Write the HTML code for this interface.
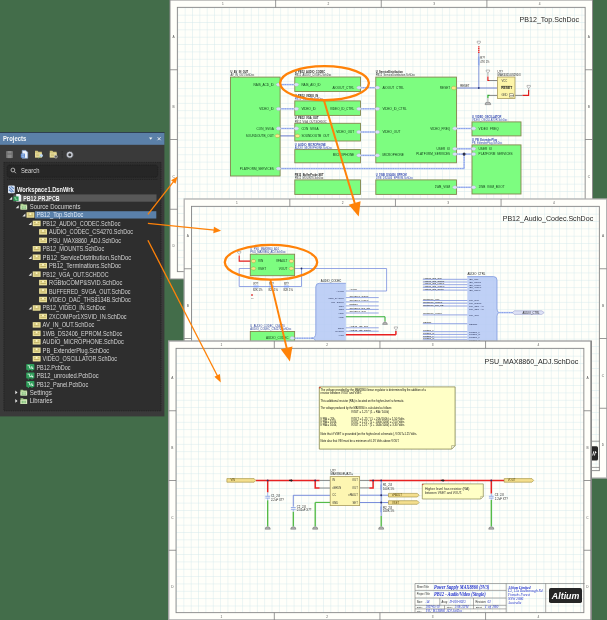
<!DOCTYPE html>
<html><head><meta charset="utf-8"><title>Projects</title>
<style>html,body{margin:0;padding:0;background:#436d4a;overflow:hidden}svg{display:block}text{font-family:"Liberation Sans",sans-serif}.zl{font-size:3.2px;fill:#555;text-anchor:middle}.ttl{font-size:7.08px;fill:#262626;text-anchor:end}.t{font-size:7.1px;fill:#e8e8e8}</style></head><body>
<svg width="607" height="620" viewBox="0 0 607 620">
<defs>
<pattern id="grid1" x="177.34782608695653" y="7.3478260869565215" width="7.3478260869565215" height="7.3478260869565215" patternUnits="userSpaceOnUse"><rect width="7.3478260869565215" height="7.3478260869565215" fill="#fffffa"/><path d="M0 0H7.3478260869565215M0 0V7.3478260869565215" stroke="#d5e9ee" stroke-width="0.9" fill="none"/></pattern>
<pattern id="grid2" x="191.54782608695652" y="206.34782608695653" width="7.3478260869565215" height="7.3478260869565215" patternUnits="userSpaceOnUse"><rect width="7.3478260869565215" height="7.3478260869565215" fill="#fffffa"/><path d="M0 0H7.3478260869565215M0 0V7.3478260869565215" stroke="#d5e9ee" stroke-width="0.9" fill="none"/></pattern>
<pattern id="grid3" x="176.04782608695652" y="348.3478260869565" width="7.3478260869565215" height="7.3478260869565215" patternUnits="userSpaceOnUse"><rect width="7.3478260869565215" height="7.3478260869565215" fill="#fffffa"/><path d="M0 0H7.3478260869565215M0 0V7.3478260869565215" stroke="#d5e9ee" stroke-width="0.9" fill="none"/></pattern>
<filter id="soft" x="0" y="0" width="100%" height="100%" filterUnits="userSpaceOnUse" color-interpolation-filters="sRGB"><feGaussianBlur stdDeviation="0.38"/></filter>
</defs>
<g filter="url(#soft)">
<rect width="607" height="620" fill="#436d4a"/>
<g>
<rect x="170.0" y="0.0" width="422.5" height="279.0" fill="#fffffa" stroke="#8c8c8c" stroke-width="1.0"/>
<rect x="177.34782608695653" y="7.3478260869565215" width="407.80434782608694" height="264.30434782608694" fill="url(#grid1)" stroke="none"/>
<rect x="177.34782608695653" y="7.3478260869565215" width="407.80434782608694" height="264.30434782608694" fill="none" stroke="#868686" stroke-width="0.9"/>
<path d="M275.625 0.0V7.3478260869565215M275.625 271.6521739130435V279.0" stroke="#7d7d7d" stroke-width="0.8"/>
<path d="M170.0 69.75H177.34782608695653M585.1521739130435 69.75H592.5" stroke="#7d7d7d" stroke-width="0.8"/>
<path d="M381.25 0.0V7.3478260869565215M381.25 271.6521739130435V279.0" stroke="#7d7d7d" stroke-width="0.8"/>
<path d="M170.0 139.5H177.34782608695653M585.1521739130435 139.5H592.5" stroke="#7d7d7d" stroke-width="0.8"/>
<path d="M486.875 0.0V7.3478260869565215M486.875 271.6521739130435V279.0" stroke="#7d7d7d" stroke-width="0.8"/>
<path d="M170.0 209.25H177.34782608695653M585.1521739130435 209.25H592.5" stroke="#7d7d7d" stroke-width="0.8"/>
<text x="222.8125" y="5.2" class="zl">1</text>
<text x="222.8125" y="277.4" class="zl">1</text>
<text x="328.4375" y="5.2" class="zl">2</text>
<text x="328.4375" y="277.4" class="zl">2</text>
<text x="434.0625" y="5.2" class="zl">3</text>
<text x="434.0625" y="277.4" class="zl">3</text>
<text x="539.6875" y="5.2" class="zl">4</text>
<text x="539.6875" y="277.4" class="zl">4</text>
<text x="173.67391304347825" y="38.075" class="zl">A</text>
<text x="588.8260869565217" y="38.075" class="zl">A</text>
<text x="173.67391304347825" y="107.825" class="zl">B</text>
<text x="588.8260869565217" y="107.825" class="zl">B</text>
<text x="173.67391304347825" y="177.575" class="zl">C</text>
<text x="588.8260869565217" y="177.575" class="zl">C</text>
<text x="173.67391304347825" y="247.325" class="zl">D</text>
<text x="588.8260869565217" y="247.325" class="zl">D</text>
<text x="579" y="21.8" class="ttl">PB12_Top.SchDoc</text>
</g>
<g id="s1c">
<path d="M280 84.6H294.8" fill="none" stroke="#b0c1f3" stroke-width="1.5"/>
<path d="M280 84.6H294.8" fill="none" stroke="#6f8be2" stroke-width="0.675" stroke-dasharray="1.2 1.2"/>
<path d="M280 108.8H294.8" fill="none" stroke="#b0c1f3" stroke-width="1.5"/>
<path d="M280 108.8H294.8" fill="none" stroke="#6f8be2" stroke-width="0.675" stroke-dasharray="1.2 1.2"/>
<path d="M280 128.5H294.8" fill="none" stroke="#b0c1f3" stroke-width="1.5"/>
<path d="M280 128.5H294.8" fill="none" stroke="#6f8be2" stroke-width="0.675" stroke-dasharray="1.2 1.2"/>
<path d="M280 135.9H294.8" fill="none" stroke="#3f55c0" stroke-width="0.8"/>
<path d="M360.5 87.7H375.8" fill="none" stroke="#b0c1f3" stroke-width="1.5"/>
<path d="M360.5 87.7H375.8" fill="none" stroke="#6f8be2" stroke-width="0.675" stroke-dasharray="1.2 1.2"/>
<path d="M360.5 108.8H375.8" fill="none" stroke="#b0c1f3" stroke-width="1.5"/>
<path d="M360.5 108.8H375.8" fill="none" stroke="#6f8be2" stroke-width="0.675" stroke-dasharray="1.2 1.2"/>
<path d="M360.5 132.0H375.8" fill="none" stroke="#b0c1f3" stroke-width="1.5"/>
<path d="M360.5 132.0H375.8" fill="none" stroke="#6f8be2" stroke-width="0.675" stroke-dasharray="1.2 1.2"/>
<path d="M360.5 155.4H375.8" fill="none" stroke="#b0c1f3" stroke-width="1.5"/>
<path d="M360.5 155.4H375.8" fill="none" stroke="#6f8be2" stroke-width="0.675" stroke-dasharray="1.2 1.2"/>
<path d="M280 168.6H464.1V154.1" fill="none" stroke="#b0c1f3" stroke-width="1.5"/>
<path d="M280 168.6H464.1V154.1" fill="none" stroke="#6f8be2" stroke-width="0.675" stroke-dasharray="1.2 1.2"/>
<path d="M456.5 128.5H472" fill="none" stroke="#b0c1f3" stroke-width="1.5"/>
<path d="M456.5 128.5H472" fill="none" stroke="#6f8be2" stroke-width="0.675" stroke-dasharray="1.2 1.2"/>
<path d="M456.5 148.8H472" fill="none" stroke="#b0c1f3" stroke-width="1.5"/>
<path d="M456.5 148.8H472" fill="none" stroke="#6f8be2" stroke-width="0.675" stroke-dasharray="1.2 1.2"/>
<path d="M456.5 154.1H472" fill="none" stroke="#b0c1f3" stroke-width="1.5"/>
<path d="M456.5 154.1H472" fill="none" stroke="#6f8be2" stroke-width="0.675" stroke-dasharray="1.2 1.2"/>
<path d="M456.5 187.3H472" fill="none" stroke="#b0c1f3" stroke-width="1.5"/>
<path d="M456.5 187.3H472" fill="none" stroke="#6f8be2" stroke-width="0.675" stroke-dasharray="1.2 1.2"/>
<path d="M456.5 88H497.4" fill="none" stroke="#3048b8" stroke-width="0.7"/>
<path d="M478.8 46.2V53.2" stroke="#e82020" stroke-width="1.4" stroke-dasharray="1.3 0.5"/>
<path d="M478.8 56.8V65.6" stroke="#8ea6e6" stroke-width="1.7"/>
<path d="M478.8 53V57M478.8 65.6V88" fill="none" stroke="#5870d0" stroke-width="0.7"/>
<circle cx="478.8" cy="88" r="0.9" fill="#28357a"/>
<circle cx="464.1" cy="154.1" r="1.55" fill="#2c3048"/>
<path d="M477.2 41.2h3.2v1.6l-1.6 1.2l-1.6-1.2z" fill="#f4f4f4" stroke="#666" stroke-width="0.4"/>
<text x="480.30" y="58.90" style="font-size:2.6px;fill:#2b2b2b;">R??</text>
<text x="480.30" y="62.60" style="font-size:2.6px;fill:#2b2b2b;">47K 1%</text>
<rect x="230.50" y="77.10" width="49.60" height="98.90" fill="#7dfd80" stroke="#84864e" stroke-width="0.9"/>
<rect x="294.80" y="77.00" width="65.70" height="14.50" fill="#7dfd80" stroke="#84864e" stroke-width="0.9"/>
<rect x="294.80" y="100.90" width="65.70" height="14.50" fill="#7dfd80" stroke="#84864e" stroke-width="0.9"/>
<rect x="294.80" y="123.30" width="65.70" height="17.70" fill="#7dfd80" stroke="#84864e" stroke-width="0.9"/>
<rect x="294.80" y="149.60" width="65.70" height="13.20" fill="#7dfd80" stroke="#84864e" stroke-width="0.9"/>
<rect x="294.80" y="179.90" width="65.70" height="14.50" fill="#7dfd80" stroke="#84864e" stroke-width="0.9"/>
<rect x="375.80" y="77.10" width="80.70" height="85.70" fill="#7dfd80" stroke="#84864e" stroke-width="0.9"/>
<rect x="375.80" y="179.90" width="80.70" height="14.50" fill="#7dfd80" stroke="#84864e" stroke-width="0.9"/>
<rect x="472.00" y="121.90" width="49.00" height="14.00" fill="#7dfd80" stroke="#84864e" stroke-width="0.9"/>
<rect x="472.00" y="144.90" width="49.00" height="49.10" fill="#7dfd80" stroke="#84864e" stroke-width="0.9"/>
<text x="230.50" y="73.20" style="font-size:2.6px;fill:#222;font-weight:bold;">U_AV_IN_OUT</text>
<text x="230.50" y="76.30" style="font-size:2.6px;fill:#333;">AV_IN_OUT.SchDoc</text>
<text x="294.80" y="73.10" style="font-size:2.6px;fill:#222;font-weight:bold;">U_PB12_AUDIO_CODEC</text>
<text x="294.80" y="76.20" style="font-size:2.6px;fill:#333;">PB12_AUDIO_CODEC.SchDoc</text>
<text x="294.80" y="97.00" style="font-size:2.6px;fill:#222;font-weight:bold;">U_PB12_VIDEO_IN</text>
<text x="294.80" y="100.10" style="font-size:2.6px;fill:#3348b0;">PB12_Video_IN.SchDoc</text>
<text x="294.80" y="119.40" style="font-size:2.6px;fill:#222;font-weight:bold;">U_PB12_VGA_OUT</text>
<text x="294.80" y="122.50" style="font-size:2.6px;fill:#333;">PB12_VGA_OUT.SCHDOC</text>
<text x="294.80" y="145.70" style="font-size:2.6px;fill:#3348b0;font-weight:bold;">U_AUDIO_MICROPHONE</text>
<text x="294.80" y="148.80" style="font-size:2.6px;fill:#3348b0;">AUDIO_MICROPHONE.SchDoc</text>
<text x="294.80" y="176.00" style="font-size:2.6px;fill:#222;font-weight:bold;">PB12_BufferProbe.SET</text>
<text x="294.80" y="179.10" style="font-size:2.6px;fill:#333;">PB12_MOUNTS.SchDoc</text>
<text x="375.80" y="73.20" style="font-size:2.6px;fill:#222;font-weight:bold;">U_ServiceDistribution</text>
<text x="375.80" y="76.30" style="font-size:2.6px;fill:#333;">PB12_ServiceDistribution.SchDoc</text>
<text x="375.80" y="176.00" style="font-size:2.6px;fill:#3348b0;font-weight:bold;">U_1WB_DS2406_EPROM</text>
<text x="375.80" y="179.10" style="font-size:2.6px;fill:#3348b0;">1WB_DS2406_EPROM.SchDoc</text>
<text x="472.00" y="118.00" style="font-size:2.6px;fill:#3348b0;font-weight:bold;">U_VIDEO_OSCILLATOR</text>
<text x="472.00" y="121.10" style="font-size:2.6px;fill:#3348b0;">VIDEO_OSCILLATOR.SchDoc</text>
<text x="472.00" y="141.00" style="font-size:2.6px;fill:#3348b0;font-weight:bold;">U_PB_ExtenderPlug</text>
<text x="472.00" y="144.10" style="font-size:2.6px;fill:#3348b0;">PB_ExtenderPlug.SchDoc</text>
<path d="M275.90 84.60l1.65 -1.65h1.90l1.65 1.65l-1.65 1.65h-1.90z" fill="#d9e0f8" stroke="#a9a6b8" stroke-width="0.35"/>
<text x="273.80" y="85.60" style="font-size:3.1px;fill:#0f3a18;text-anchor:end;">NAIS_ACD_ID</text>
<path d="M275.90 108.80l1.65 -1.65h1.90l1.65 1.65l-1.65 1.65h-1.90z" fill="#d9e0f8" stroke="#a9a6b8" stroke-width="0.35"/>
<text x="273.80" y="109.80" style="font-size:3.1px;fill:#0f3a18;text-anchor:end;">VIDEO_ID</text>
<path d="M275.90 128.50l1.65 -1.65h1.90l1.65 1.65l-1.65 1.65h-1.90z" fill="#d9e0f8" stroke="#a9a6b8" stroke-width="0.35"/>
<text x="273.80" y="129.50" style="font-size:3.1px;fill:#0f3a18;text-anchor:end;">CON_SVGA</text>
<path d="M274.70 135.90l1.70 -1.70h2.00l1.70 1.70l-1.70 1.70h-2.00z" fill="#fbe58a" stroke="#9c8428" stroke-width="0.35"/>
<text x="273.80" y="136.90" style="font-size:3.1px;fill:#0f3a18;text-anchor:end;">SOUNDOUTB_OUT</text>
<path d="M275.90 168.60l1.65 -1.65h1.90l1.65 1.65l-1.65 1.65h-1.90z" fill="#d9e0f8" stroke="#a9a6b8" stroke-width="0.35"/>
<text x="273.80" y="169.60" style="font-size:3.1px;fill:#0f3a18;text-anchor:end;">PLATFORM_SERVICES</text>
<path d="M293.80 84.60l1.65 -1.65h1.90l1.65 1.65l-1.65 1.65h-1.90z" fill="#d9e0f8" stroke="#a9a6b8" stroke-width="0.35"/>
<text x="301.40" y="85.60" style="font-size:3.1px;fill:#0f3a18;">NAIS_AIO_ID</text>
<path d="M356.30 87.70l1.65 -1.65h1.90l1.65 1.65l-1.65 1.65h-1.90z" fill="#d9e0f8" stroke="#a9a6b8" stroke-width="0.35"/>
<text x="354.20" y="88.70" style="font-size:3.1px;fill:#0f3a18;text-anchor:end;">AIOOUT_CTRL</text>
<path d="M293.80 108.80l1.65 -1.65h1.90l1.65 1.65l-1.65 1.65h-1.90z" fill="#d9e0f8" stroke="#a9a6b8" stroke-width="0.35"/>
<text x="301.40" y="109.80" style="font-size:3.1px;fill:#0f3a18;">VIDEO_ID</text>
<path d="M356.30 108.80l1.65 -1.65h1.90l1.65 1.65l-1.65 1.65h-1.90z" fill="#d9e0f8" stroke="#a9a6b8" stroke-width="0.35"/>
<text x="354.20" y="109.80" style="font-size:3.1px;fill:#0f3a18;text-anchor:end;">VIDEO_ID_CTRL</text>
<path d="M293.80 128.50l1.65 -1.65h1.90l1.65 1.65l-1.65 1.65h-1.90z" fill="#d9e0f8" stroke="#a9a6b8" stroke-width="0.35"/>
<text x="301.40" y="129.50" style="font-size:3.1px;fill:#0f3a18;">CON_SVGA</text>
<path d="M294.80 135.90l1.70 -1.70h2.00l1.70 1.70l-1.70 1.70h-2.00z" fill="#fbe58a" stroke="#9c8428" stroke-width="0.35"/>
<text x="301.40" y="136.90" style="font-size:3.1px;fill:#0f3a18;">SOUNDOUTB_OUT</text>
<path d="M356.30 132.00l1.65 -1.65h1.90l1.65 1.65l-1.65 1.65h-1.90z" fill="#d9e0f8" stroke="#a9a6b8" stroke-width="0.35"/>
<text x="354.20" y="133.00" style="font-size:3.1px;fill:#0f3a18;text-anchor:end;">VIDEO_OUT</text>
<path d="M356.30 155.40l1.65 -1.65h1.90l1.65 1.65l-1.65 1.65h-1.90z" fill="#d9e0f8" stroke="#a9a6b8" stroke-width="0.35"/>
<text x="354.20" y="156.40" style="font-size:3.1px;fill:#0f3a18;text-anchor:end;">MICROPHONE</text>
<path d="M374.80 87.70l1.65 -1.65h1.90l1.65 1.65l-1.65 1.65h-1.90z" fill="#d9e0f8" stroke="#a9a6b8" stroke-width="0.35"/>
<text x="382.40" y="88.70" style="font-size:3.1px;fill:#0f3a18;">AIOOUT_CTRL</text>
<path d="M374.80 108.80l1.65 -1.65h1.90l1.65 1.65l-1.65 1.65h-1.90z" fill="#d9e0f8" stroke="#a9a6b8" stroke-width="0.35"/>
<text x="382.40" y="109.80" style="font-size:3.1px;fill:#0f3a18;">VIDEO_ID_CTRL</text>
<path d="M374.80 132.00l1.65 -1.65h1.90l1.65 1.65l-1.65 1.65h-1.90z" fill="#d9e0f8" stroke="#a9a6b8" stroke-width="0.35"/>
<text x="382.40" y="133.00" style="font-size:3.1px;fill:#0f3a18;">VIDEO_OUT</text>
<path d="M374.80 155.40l1.65 -1.65h1.90l1.65 1.65l-1.65 1.65h-1.90z" fill="#d9e0f8" stroke="#a9a6b8" stroke-width="0.35"/>
<text x="382.40" y="156.40" style="font-size:3.1px;fill:#0f3a18;">MICROPHONE</text>
<path d="M451.10 88.00l1.70 -1.70h2.00l1.70 1.70l-1.70 1.70h-2.00z" fill="#fbe58a" stroke="#9c8428" stroke-width="0.35"/>
<text x="450.20" y="89.00" style="font-size:3.1px;fill:#0f3a18;text-anchor:end;">RESET</text>
<path d="M452.30 128.50l1.65 -1.65h1.90l1.65 1.65l-1.65 1.65h-1.90z" fill="#d9e0f8" stroke="#a9a6b8" stroke-width="0.35"/>
<text x="450.20" y="129.50" style="font-size:3.1px;fill:#0f3a18;text-anchor:end;">VIDEO_FREQ</text>
<path d="M452.30 148.80l1.65 -1.65h1.90l1.65 1.65l-1.65 1.65h-1.90z" fill="#d9e0f8" stroke="#a9a6b8" stroke-width="0.35"/>
<text x="450.20" y="149.80" style="font-size:3.1px;fill:#0f3a18;text-anchor:end;">USER_IO</text>
<path d="M452.30 154.10l1.65 -1.65h1.90l1.65 1.65l-1.65 1.65h-1.90z" fill="#d9e0f8" stroke="#a9a6b8" stroke-width="0.35"/>
<text x="450.20" y="155.10" style="font-size:3.1px;fill:#0f3a18;text-anchor:end;">PLATFORM_SERVICES</text>
<path d="M452.30 187.30l1.65 -1.65h1.90l1.65 1.65l-1.65 1.65h-1.90z" fill="#d9e0f8" stroke="#a9a6b8" stroke-width="0.35"/>
<text x="450.20" y="188.30" style="font-size:3.1px;fill:#0f3a18;text-anchor:end;">1WB_VGM</text>
<path d="M471.00 128.50l1.65 -1.65h1.90l1.65 1.65l-1.65 1.65h-1.90z" fill="#d9e0f8" stroke="#a9a6b8" stroke-width="0.35"/>
<text x="478.60" y="129.50" style="font-size:3.1px;fill:#0f3a18;">VIDEO_FREQ</text>
<path d="M471.00 148.80l1.65 -1.65h1.90l1.65 1.65l-1.65 1.65h-1.90z" fill="#d9e0f8" stroke="#a9a6b8" stroke-width="0.35"/>
<text x="478.60" y="149.80" style="font-size:3.1px;fill:#0f3a18;">USER_IO</text>
<path d="M471.00 154.10l1.65 -1.65h1.90l1.65 1.65l-1.65 1.65h-1.90z" fill="#d9e0f8" stroke="#a9a6b8" stroke-width="0.35"/>
<text x="478.60" y="155.10" style="font-size:3.1px;fill:#0f3a18;">PLATFORM_SERVICES</text>
<path d="M471.00 187.30l1.65 -1.65h1.90l1.65 1.65l-1.65 1.65h-1.90z" fill="#d9e0f8" stroke="#a9a6b8" stroke-width="0.35"/>
<text x="478.60" y="188.30" style="font-size:3.1px;fill:#0f3a18;">1WB_VGM_BOOT</text>
<text x="460.20" y="87.20" style="font-size:2.8px;fill:#222;">RESET</text>
<path d="M489 80.5H497.4M489 95.4H497.4M515 95.4H522.5" stroke="#555" stroke-width="0.7"/>
<path d="M487.9 76.6V80.5H489.4" stroke="#e21c1c" stroke-width="1.2" fill="none"/>
<path d="M489.4 95.4H487.9V98" stroke="#2fae2f" stroke-width="1.2" fill="none"/>
<path d="M522.5 95.4H528.6V90" stroke="#e21c1c" stroke-width="1.2" fill="none"/>
<rect x="497.40" y="77.00" width="17.60" height="21.40" fill="#fdf5a9" stroke="#a89a5c" stroke-width="0.8"/>
<text x="497.60" y="73.00" style="font-size:2.8px;fill:#1c1c1c;">U??</text>
<text x="497.60" y="76.00" style="font-size:2.8px;fill:#1c1c1c;">MAX6315US29D3</text>
<text x="501.40" y="81.50" style="font-size:2.8px;fill:#444;">VCC</text>
<text x="501.40" y="96.40" style="font-size:2.8px;fill:#444;">GND</text>
<text x="501.20" y="89.30" style="font-size:3.3px;fill:#222;font-weight:bold;">RESET</text>
<path d="M501.2 86.3H510.6" stroke="#222" stroke-width="0.4"/>
<rect x="509.6" y="93.8" width="4.2" height="3.2" fill="#fffbe0" stroke="#444" stroke-width="0.4"/>
<text x="510.00" y="96.40" style="font-size:2.4px;fill:#222;">MR</text>
<path d="M486.2 70.0h3.4v1.4l-1.7 1.6l-1.7-1.6z" fill="#f6f6f6" stroke="#666" stroke-width="0.4"/>
<path d="M487.9 73.0v3.2" stroke="#666" stroke-width="0.5"/>
<path d="M527.0 85.39999999999999h3.4v1.4l-1.7 1.6l-1.7-1.6z" fill="#f6f6f6" stroke="#666" stroke-width="0.4"/>
<path d="M528.7 88.39999999999999v3.2" stroke="#666" stroke-width="0.5"/>
<path d="M487.9 98v3.6" stroke="#666" stroke-width="0.6"/><path d="M485 104.6a2.9 2.6 0 0 1 5.8 0z" fill="#b9b9b9" stroke="#666" stroke-width="0.5"/>
</g>
<g>
<rect x="184.2" y="199.0" width="422.5" height="279.0" fill="#fffffa" stroke="#b2b2b2" stroke-width="1.3"/>
<rect x="191.54782608695652" y="206.34782608695653" width="407.80434782608694" height="264.30434782608694" fill="url(#grid2)" stroke="none"/>
<rect x="191.54782608695652" y="206.34782608695653" width="407.80434782608694" height="264.30434782608694" fill="none" stroke="#868686" stroke-width="0.9"/>
<path d="M289.825 199.0V206.34782608695653M289.825 470.6521739130435V478.0" stroke="#7d7d7d" stroke-width="0.8"/>
<path d="M184.2 268.75H191.54782608695652M599.3521739130435 268.75H606.7" stroke="#7d7d7d" stroke-width="0.8"/>
<path d="M395.45 199.0V206.34782608695653M395.45 470.6521739130435V478.0" stroke="#7d7d7d" stroke-width="0.8"/>
<path d="M184.2 338.5H191.54782608695652M599.3521739130435 338.5H606.7" stroke="#7d7d7d" stroke-width="0.8"/>
<path d="M501.075 199.0V206.34782608695653M501.075 470.6521739130435V478.0" stroke="#7d7d7d" stroke-width="0.8"/>
<path d="M184.2 408.25H191.54782608695652M599.3521739130435 408.25H606.7" stroke="#7d7d7d" stroke-width="0.8"/>
<text x="237.0125" y="204.2" class="zl">1</text>
<text x="237.0125" y="476.4" class="zl">1</text>
<text x="342.6375" y="204.2" class="zl">2</text>
<text x="342.6375" y="476.4" class="zl">2</text>
<text x="448.2625" y="204.2" class="zl">3</text>
<text x="448.2625" y="476.4" class="zl">3</text>
<text x="553.8875" y="204.2" class="zl">4</text>
<text x="553.8875" y="476.4" class="zl">4</text>
<text x="187.87391304347824" y="237.075" class="zl">A</text>
<text x="603.0260869565218" y="237.075" class="zl">A</text>
<text x="187.87391304347824" y="306.825" class="zl">B</text>
<text x="603.0260869565218" y="306.825" class="zl">B</text>
<text x="187.87391304347824" y="376.575" class="zl">C</text>
<text x="603.0260869565218" y="376.575" class="zl">C</text>
<text x="187.87391304347824" y="446.325" class="zl">D</text>
<text x="603.0260869565218" y="446.325" class="zl">D</text>
<text x="593.2" y="220.8" class="ttl">PB12_Audio_Codec.SchDoc</text>
</g>
<g id="s2c">
<path d="M250.3 268.5H239.2V286.5H301.5V268.5" fill="none" stroke="#7a8fde" stroke-width="0.8"/>
<path d="M294.6 268.5H386.6V291H345.9" fill="none" stroke="#7a8fde" stroke-width="0.8"/>
<circle cx="301.5" cy="268.5" r="0.9" fill="#27306a"/>
<path d="M239.2 255.4V261.1H250.3" stroke="#e21c1c" stroke-width="1.1" fill="none"/>
<path d="M237.6 251.4h3.2v1.4l-1.6 1.5l-1.6-1.5z" fill="#f6f6f6" stroke="#666" stroke-width="0.4"/>
<path d="M253.4 286.5H258.6" stroke="#7f9cf0" stroke-width="1.7"/>
<text x="253.40" y="284.60" style="font-size:2.7px;fill:#1c1c1c;">R??</text>
<text x="253.00" y="291.20" style="font-size:2.7px;fill:#1c1c1c;">82K 1%</text>
<path d="M268.9 286.5H274.1" stroke="#7f9cf0" stroke-width="1.7"/>
<text x="268.90" y="284.60" style="font-size:2.7px;fill:#1c1c1c;">R??</text>
<text x="268.50" y="291.20" style="font-size:2.7px;fill:#1c1c1c;">82K 1%</text>
<path d="M283.9 286.5H289.1" stroke="#7f9cf0" stroke-width="1.7"/>
<text x="283.90" y="284.60" style="font-size:2.7px;fill:#1c1c1c;">R??</text>
<text x="283.50" y="291.20" style="font-size:2.7px;fill:#1c1c1c;">82K 1%</text>
<rect x="251.2" y="294.2" width="1.6" height="1.6" fill="#e03030"/>
<text x="251.00" y="298.60" style="font-size:2.3px;fill:#555;">??</text>
<rect x="250.30" y="254.20" width="44.30" height="21.50" fill="#7dfd80" stroke="#84864e" stroke-width="0.9"/>
<text x="250.30" y="250.40" style="font-size:2.7px;fill:#2a3f9a;">U_PSU_MAX8860_ADJ</text>
<text x="250.30" y="253.40" style="font-size:2.7px;fill:#2a3f9a;">PSU_MAX8860_ADJ.SchDoc</text>
<path d="M251.00 261.10l1.60 -1.60h1.80l1.60 1.60l-1.60 1.60h-1.80z" fill="#fbe58a" stroke="#9c8428" stroke-width="0.35"/>
<path d="M288.90 261.10l1.60 -1.60h1.80l1.60 1.60l-1.60 1.60h-1.80z" fill="#fbe58a" stroke="#9c8428" stroke-width="0.35"/>
<text x="258.00" y="262.10" style="font-size:3.1px;fill:#0f3a18;">VIN</text>
<text x="287.40" y="262.10" style="font-size:3.1px;fill:#0f3a18;text-anchor:end;">VFAULT</text>
<path d="M251.00 268.50l1.60 -1.60h1.80l1.60 1.60l-1.60 1.60h-1.80z" fill="#fbe58a" stroke="#9c8428" stroke-width="0.35"/>
<path d="M288.90 268.50l1.60 -1.60h1.80l1.60 1.60l-1.60 1.60h-1.80z" fill="#fbe58a" stroke="#9c8428" stroke-width="0.35"/>
<text x="258.00" y="269.50" style="font-size:3.1px;fill:#0f3a18;">VSET</text>
<text x="287.40" y="269.50" style="font-size:3.1px;fill:#0f3a18;text-anchor:end;">VOUT</text>
<rect x="250.30" y="331.50" width="44.30" height="20.50" fill="#7dfd80" stroke="#84864e" stroke-width="0.9"/>
<text x="250.30" y="327.00" style="font-size:2.7px;fill:#2a3f9a;">U_AUDIO_CODEC_CS4270</text>
<text x="250.30" y="330.20" style="font-size:2.7px;fill:#2a3f9a;">AUDIO_CODEC_CS4270.SchDoc</text>
<path d="M294.6 338.2H313" fill="none" stroke="#b0c1f3" stroke-width="1.5"/>
<path d="M294.6 338.2H313" fill="none" stroke="#6f8be2" stroke-width="0.675" stroke-dasharray="1.2 1.2"/>
<path d="M289.60 338.20l1.65 -1.65h1.90l1.65 1.65l-1.65 1.65h-1.90z" fill="#d9e0f8" stroke="#a9a6b8" stroke-width="0.35"/>
<text x="288.60" y="339.20" style="font-size:3.1px;fill:#0f3a18;text-anchor:end;">AUDIO_CODEC</text>
<path d="M345.9 283.3H319.3Q315.8 283.3 315.8 286.8V333Q315.8 338.2 311.5 338.2Q315.8 338.2 315.8 343V352H345.9z" fill="#b4c8f5" fill-opacity="0.86" stroke="none"/>
<path d="M345.9 283.3H319.3Q315.8 283.3 315.8 286.8V333Q315.8 338.2 311.5 338.2Q315.8 338.2 315.8 343V352" fill="none" stroke="#7f99de" stroke-width="0.8"/>
<text x="320.80" y="282.20" style="font-size:2.8px;fill:#1c1c1c;">AUDIO_CODEC</text>
<text x="343.80" y="291.90" style="font-size:2.5px;fill:#2a3358;text-anchor:end;">APWR</text>
<text x="349.40" y="290.40" style="font-size:2.5px;fill:#202020;">APWR</text>
<path d="M345.9 297.6H378.7" fill="none" stroke="#7a8fde" stroke-width="0.8"/>
<text x="343.80" y="298.50" style="font-size:2.5px;fill:#2a3358;text-anchor:end;">xSDI_DAOUT</text>
<text x="349.40" y="297.00" style="font-size:2.5px;fill:#202020;">OUTDIFF_SOUT</text>
<path d="M345.9 301.9H378.7" fill="none" stroke="#7a8fde" stroke-width="0.8"/>
<text x="343.80" y="302.80" style="font-size:2.5px;fill:#2a3358;text-anchor:end;">SPI_DOUT</text>
<text x="349.40" y="301.30" style="font-size:2.5px;fill:#202020;">OUTDIFF_MCLK</text>
<path d="M345.9 305.9H378.7" fill="none" stroke="#7a8fde" stroke-width="0.8"/>
<text x="343.80" y="306.80" style="font-size:2.5px;fill:#2a3358;text-anchor:end;">RST</text>
<text x="349.40" y="305.30" style="font-size:2.5px;fill:#202020;">RESET</text>
<path d="M345.9 309.4H378.7" fill="none" stroke="#7a8fde" stroke-width="0.8"/>
<text x="343.80" y="310.30" style="font-size:2.5px;fill:#2a3358;text-anchor:end;">NSS</text>
<text x="349.40" y="308.80" style="font-size:2.5px;fill:#202020;">OUTDIFF_DS_SE</text>
<path d="M345.9 313.0H378.7" fill="none" stroke="#7a8fde" stroke-width="0.8"/>
<text x="343.80" y="313.90" style="font-size:2.5px;fill:#2a3358;text-anchor:end;">xSCI</text>
<text x="349.40" y="312.40" style="font-size:2.5px;fill:#202020;">OUTDIFF_SIN</text>
<path d="M345.9 316.7H385.0" fill="none" stroke="#35b035" stroke-width="1.1"/>
<text x="343.80" y="317.60" style="font-size:2.5px;fill:#2a3358;text-anchor:end;">VDD</text>
<path d="M345.9 327.8H378.7" fill="none" stroke="#7a8fde" stroke-width="0.8"/>
<text x="343.80" y="328.70" style="font-size:2.5px;fill:#2a3358;text-anchor:end;">SDIN</text>
<text x="349.40" y="327.20" style="font-size:2.5px;fill:#202020;">AUDIO_I2S_SIN</text>
<path d="M345.9 331.2H378.7" fill="none" stroke="#7a8fde" stroke-width="0.8"/>
<text x="343.80" y="332.10" style="font-size:2.5px;fill:#2a3358;text-anchor:end;">SVOUT</text>
<text x="349.40" y="330.60" style="font-size:2.5px;fill:#202020;">AUDIO_I2S_SOUT</text>
<path d="M345.9 334.7H395.9" fill="none" stroke="#e82020" stroke-width="1.5"/>
<text x="343.80" y="335.60" style="font-size:2.5px;fill:#2a3358;text-anchor:end;">VCC</text>
<path d="M385 316.7V321.4" stroke="#35b035" stroke-width="1.1"/>
<path d="M382.6 324.4a2.4 2.2 0 0 1 4.8 0z" fill="#b9b9b9" stroke="#666" stroke-width="0.5"/><path d="M385 321.2v1.2" stroke="#666" stroke-width="0.5"/>
<path d="M395.9 334.7V331" stroke="#e82020" stroke-width="1.5"/>
<path d="M394.3 326.9h3.2v1.4l-1.6 1.5l-1.6-1.5z" fill="#f6f6f6" stroke="#666" stroke-width="0.4"/><path d="M395.9 329.8v1.4" stroke="#666" stroke-width="0.5"/>
<path d="M467.3 276.6H493.5Q497 276.6 497 280.1V309Q497 312.6 499.4 312.6Q497 312.6 497 316.2V352H467.3z" fill="#b4c8f5" fill-opacity="0.86"/>
<path d="M467.3 276.6H493.5Q497 276.6 497 280.1V309Q497 312.6 499.4 312.6Q497 312.6 497 316.2V352" fill="none" stroke="#7f99de" stroke-width="0.8"/>
<text x="467.50" y="275.40" style="font-size:2.8px;fill:#1c1c1c;">AUDIO_CTRL</text>
<path d="M422.8 279.3H467.3" fill="none" stroke="#7a8fde" stroke-width="0.8"/>
<text x="423.00" y="278.80" style="font-size:2.5px;fill:#202020;">AUDIO_I2S_SIN</text>
<text x="469.00" y="280.20" style="font-size:2.5px;fill:#2a3358;">I2S_SIN</text>
<path d="M422.8 282.0H467.3" fill="none" stroke="#7a8fde" stroke-width="0.8"/>
<text x="423.00" y="281.50" style="font-size:2.5px;fill:#202020;">AUDIO_I2S_SOUT</text>
<text x="469.00" y="282.90" style="font-size:2.5px;fill:#2a3358;">I2S_SOUT</text>
<path d="M422.8 284.7H467.3" fill="none" stroke="#7a8fde" stroke-width="0.8"/>
<text x="423.00" y="284.20" style="font-size:2.5px;fill:#202020;">AUDIO_I2S_MCLK</text>
<text x="469.00" y="285.60" style="font-size:2.5px;fill:#2a3358;">I2S_MCLK</text>
<path d="M422.8 287.4H467.3" fill="none" stroke="#7a8fde" stroke-width="0.8"/>
<text x="423.00" y="286.90" style="font-size:2.5px;fill:#202020;">AUDIO_I2S_WCLK</text>
<text x="469.00" y="288.30" style="font-size:2.5px;fill:#2a3358;">I2S_WCLK</text>
<path d="M422.8 290.1H467.3" fill="none" stroke="#7a8fde" stroke-width="0.8"/>
<text x="423.00" y="289.60" style="font-size:2.5px;fill:#202020;">AUDIO_I2S_SCLK</text>
<text x="469.00" y="291.00" style="font-size:2.5px;fill:#2a3358;">I2S_SCLK</text>
<path d="M422.8 300.5H467.3" fill="none" stroke="#7a8fde" stroke-width="0.8"/>
<text x="423.00" y="300.00" style="font-size:2.5px;fill:#202020;">OUTDIFF_SIN</text>
<text x="469.00" y="301.40" style="font-size:2.5px;fill:#2a3358;">SPI_DIN</text>
<path d="M422.8 303.2H467.3" fill="none" stroke="#7a8fde" stroke-width="0.8"/>
<text x="423.00" y="302.70" style="font-size:2.5px;fill:#202020;">OUTDIFF_SOUT</text>
<text x="469.00" y="304.10" style="font-size:2.5px;fill:#2a3358;">SPI_DOUT</text>
<path d="M422.8 306.0H467.3" fill="none" stroke="#7a8fde" stroke-width="0.8"/>
<text x="423.00" y="305.50" style="font-size:2.5px;fill:#202020;">OUTDIFF_DS_SE</text>
<text x="469.00" y="306.90" style="font-size:2.5px;fill:#2a3358;">SPI_SEL_AP</text>
<text x="469.00" y="309.90" style="font-size:2.5px;fill:#2a3358;">SPI_SEL_AP</text>
<path d="M422.8 314.9H467.3" fill="none" stroke="#7a8fde" stroke-width="0.8"/>
<text x="423.00" y="314.40" style="font-size:2.5px;fill:#202020;">OUTDIFF_MCLK</text>
<text x="469.00" y="315.80" style="font-size:2.5px;fill:#2a3358;">SPI_CLK</text>
<path d="M422.8 323.7H467.3" fill="none" stroke="#7a8fde" stroke-width="0.8"/>
<text x="423.00" y="323.20" style="font-size:2.5px;fill:#202020;">RESET</text>
<text x="469.00" y="324.60" style="font-size:2.5px;fill:#2a3358;">RESET</text>
<path d="M422.8 331.7H467.3" fill="none" stroke="#7a8fde" stroke-width="0.8"/>
<text x="423.00" y="331.20" style="font-size:2.5px;fill:#202020;">LINEIN_L</text>
<text x="469.00" y="332.60" style="font-size:2.5px;fill:#2a3358;">LINEIN_L</text>
<path d="M422.8 334.4H467.3" fill="none" stroke="#7a8fde" stroke-width="0.8"/>
<text x="423.00" y="333.90" style="font-size:2.5px;fill:#202020;">LINEIN_R</text>
<text x="469.00" y="335.30" style="font-size:2.5px;fill:#2a3358;">LINEIN_R</text>
<path d="M422.8 337.1H467.3" fill="none" stroke="#7a8fde" stroke-width="0.8"/>
<text x="423.00" y="336.60" style="font-size:2.5px;fill:#202020;">LINEIN_L</text>
<text x="469.00" y="338.00" style="font-size:2.5px;fill:#2a3358;">LINEIN_L</text>
<path d="M422.8 339.8H467.3" fill="none" stroke="#7a8fde" stroke-width="0.8"/>
<text x="423.00" y="339.30" style="font-size:2.5px;fill:#202020;">LINEIN_R</text>
<text x="469.00" y="340.70" style="font-size:2.5px;fill:#2a3358;">LINEIN_R</text>
<path d="M499.4 312.6H513" fill="none" stroke="#b0c1f3" stroke-width="1.5"/>
<path d="M499.4 312.6H513" fill="none" stroke="#6f8be2" stroke-width="0.675" stroke-dasharray="1.2 1.2"/>
<path d="M512.6 312.6l1.6-1.8h27.6l2.4 1.8l-2.4 1.8h-27.6z" fill="#dfe2f6" stroke="#8f96c8" stroke-width="0.5"/>
<text x="539.60" y="313.60" style="font-size:2.7px;fill:#222;text-anchor:end;">AUDIO_CTRL</text>
<path d="M560 441.2H599.5M560 467.4H599.5" stroke="#777" stroke-width="0.7"/>
<rect x="566" y="446.2" width="32" height="14.3" rx="1.5" fill="#262626"/>
<path d="M592.2 455.4l1.2-4.2h0.9l-1.2 4.2zM594 455.4l1.2-4.2h0.9l-0.3 1h0.9l-0.3 0.9h-0.9l-0.6 2.3z" fill="#fff"/>
</g>
<g>
<rect x="168.7" y="341.0" width="422.5" height="279.0" fill="#fffffa" stroke="#a4a4a4" stroke-width="1.4"/>
<rect x="176.04782608695652" y="348.3478260869565" width="407.80434782608694" height="264.30434782608694" fill="url(#grid3)" stroke="none"/>
<rect x="176.04782608695652" y="348.3478260869565" width="407.80434782608694" height="264.30434782608694" fill="none" stroke="#868686" stroke-width="0.9"/>
<path d="M274.325 341.0V348.3478260869565M274.325 612.6521739130435V620.0" stroke="#7d7d7d" stroke-width="0.8"/>
<path d="M168.7 410.75H176.04782608695652M583.8521739130435 410.75H591.2" stroke="#7d7d7d" stroke-width="0.8"/>
<path d="M379.95 341.0V348.3478260869565M379.95 612.6521739130435V620.0" stroke="#7d7d7d" stroke-width="0.8"/>
<path d="M168.7 480.5H176.04782608695652M583.8521739130435 480.5H591.2" stroke="#7d7d7d" stroke-width="0.8"/>
<path d="M485.575 341.0V348.3478260869565M485.575 612.6521739130435V620.0" stroke="#7d7d7d" stroke-width="0.8"/>
<path d="M168.7 550.25H176.04782608695652M583.8521739130435 550.25H591.2" stroke="#7d7d7d" stroke-width="0.8"/>
<text x="221.5125" y="346.2" class="zl">1</text>
<text x="221.5125" y="618.4" class="zl">1</text>
<text x="327.1375" y="346.2" class="zl">2</text>
<text x="327.1375" y="618.4" class="zl">2</text>
<text x="432.7625" y="346.2" class="zl">3</text>
<text x="432.7625" y="618.4" class="zl">3</text>
<text x="538.3875" y="346.2" class="zl">4</text>
<text x="538.3875" y="618.4" class="zl">4</text>
<text x="172.37391304347824" y="379.075" class="zl">A</text>
<text x="587.5260869565218" y="379.075" class="zl">A</text>
<text x="172.37391304347824" y="448.825" class="zl">B</text>
<text x="587.5260869565218" y="448.825" class="zl">B</text>
<text x="172.37391304347824" y="518.575" class="zl">C</text>
<text x="587.5260869565218" y="518.575" class="zl">C</text>
<text x="172.37391304347824" y="588.325" class="zl">D</text>
<text x="587.5260869565218" y="588.325" class="zl">D</text>
<text x="578.2" y="363.5" class="ttl">PSU_MAX8860_ADJ.SchDoc</text>
</g>
<path d="M591.2 341.0V620.0" stroke="#858585" stroke-width="1.4"/>
<g id="s3c">
<path d="M319.3 386.9H455.1V445.6L451.6 449.1H319.3z" fill="#ffffc6" stroke="#86864e" stroke-width="0.8"/>
<path d="M451.6 449.1V445.6H455.1z" fill="#fafae8" stroke="#86864e" stroke-width="0.5"/>
<path d="M319.3 386.9h1.8l-1.8 1.8z" fill="#e02020"/>
<text x="320.60" y="390.80" style="font-size:3.0px;fill:#101010;" textLength="105.4" lengthAdjust="spacingAndGlyphs">The voltage provided by the MAX8860 linear regulator is determined by the addition of a</text>
<text x="320.60" y="394.30" style="font-size:3.0px;fill:#101010;" textLength="41.4" lengthAdjust="spacingAndGlyphs">resistor between VOUT and VSET.</text>
<text x="320.60" y="402.00" style="font-size:3.0px;fill:#101010;" textLength="83.8" lengthAdjust="spacingAndGlyphs">This additional resistor (RA) is located on the higher-level schematic.</text>
<text x="320.60" y="409.40" style="font-size:3.0px;fill:#101010;" textLength="71.4" lengthAdjust="spacingAndGlyphs">The voltage produced by the MAX8860 is calculated as follows:</text>
<text x="351.00" y="413.00" style="font-size:3.0px;fill:#101010;" textLength="38.0" lengthAdjust="spacingAndGlyphs">VOUT = 1.25 * (1 + RA / 100k)</text>
<text x="320.60" y="420.40" style="font-size:3.0px;fill:#101010;" textLength="15" lengthAdjust="spacingAndGlyphs">If RA = 20k,</text>
<text x="351.00" y="420.40" style="font-size:3.0px;fill:#101010;" textLength="53.4" lengthAdjust="spacingAndGlyphs">VOUT = 1.25 * (1 +  20k/100k) = 1.50 Volts</text>
<text x="320.60" y="423.40" style="font-size:3.0px;fill:#101010;" textLength="16.4" lengthAdjust="spacingAndGlyphs">If RA = 100k,</text>
<text x="351.00" y="423.40" style="font-size:3.0px;fill:#101010;" textLength="53.4" lengthAdjust="spacingAndGlyphs">VOUT = 1.25 * (1 + 100k/100k) =  2.50 Volts</text>
<text x="320.60" y="426.30" style="font-size:3.0px;fill:#101010;" textLength="16.4" lengthAdjust="spacingAndGlyphs">If RA = 164k,</text>
<text x="351.00" y="426.30" style="font-size:3.0px;fill:#101010;" textLength="53.4" lengthAdjust="spacingAndGlyphs">VOUT = 1.25 * (1 +  164k/100k) = 3.30 Volts</text>
<text x="320.60" y="434.60" style="font-size:3.0px;fill:#101010;" textLength="96.4" lengthAdjust="spacingAndGlyphs">Note that if VSET is grounded (on the higher-level schematic), VOUT=1.25 Volts.</text>
<text x="320.60" y="441.70" style="font-size:3.0px;fill:#101010;" textLength="78.7" lengthAdjust="spacingAndGlyphs">Note also that VIN must be a minimum of 0.1V Volts above VOUT.</text>
<path d="M255.9 480.4H319.6" stroke="#e82222" stroke-width="1.5"/>
<path d="M369.3 480.4H504.2" stroke="#e82222" stroke-width="1.5"/>
<path d="M267.7 480.4V492.4" stroke="#e82222" stroke-width="1.5"/>
<path d="M315.2 480.4V488H319.6" stroke="#e82222" stroke-width="1.5" fill="none"/>
<path d="M373.1 480.4V487.9H369.3" stroke="#e82222" stroke-width="1.5" fill="none"/>
<path d="M491.3 480.4V493.6" stroke="#e82222" stroke-width="1.5"/>
<path d="M319.6 488H330.2M319.6 480.4H330.2M359.6 480.4H369.3M359.6 487.9H369.3" stroke="#555" stroke-width="0.7"/>
<path d="M293.3 506.5V495.3H330.2" fill="none" stroke="#5c74d4" stroke-width="0.8"/>
<path d="M359.6 495.2H388.5M359.6 502.5H388.5" fill="none" stroke="#5c74d4" stroke-width="0.8"/>
<path d="M381.2 480.4V516" fill="none" stroke="#5c74d4" stroke-width="0.8"/>
<path d="M381.2 484.5V489.7M381.2 506.4V512.2" stroke="#8ea6e6" stroke-width="1.7"/>
<path d="M267.7 500.3V526.6" stroke="#4db83f" stroke-width="1.3"/>
<path d="M265.10 529.20a2.6 2.4 0 0 1 5.2 0z" fill="#b4b4b4" stroke="#666" stroke-width="0.5"/>
<path d="M293.3 511.7V526.6" stroke="#4db83f" stroke-width="1.3"/>
<path d="M290.70 529.20a2.6 2.4 0 0 1 5.2 0z" fill="#b4b4b4" stroke="#666" stroke-width="0.5"/>
<path d="M315.2 502.4V526.6" stroke="#4db83f" stroke-width="1.3"/>
<path d="M312.60 529.20a2.6 2.4 0 0 1 5.2 0z" fill="#b4b4b4" stroke="#666" stroke-width="0.5"/>
<path d="M381.2 516.0V526.6" stroke="#4db83f" stroke-width="1.3"/>
<path d="M378.60 529.20a2.6 2.4 0 0 1 5.2 0z" fill="#b4b4b4" stroke="#666" stroke-width="0.5"/>
<path d="M491.3 500.0V526.6" stroke="#4db83f" stroke-width="1.3"/>
<path d="M488.70 529.20a2.6 2.4 0 0 1 5.2 0z" fill="#b4b4b4" stroke="#666" stroke-width="0.5"/>
<path d="M315.2 502.4H330.2" stroke="#4db83f" stroke-width="1.1"/>
<path d="M267.7 492.4V496.2M267.7 498.2V500.3M293.3 506.5V507.4M293.3 509.4V511.7M491.3 493.6V496.2M491.3 498.2V500" fill="none" stroke="#8ea6e6" stroke-width="0.8"/>
<path d="M265.30 496.30H270.10M265.30 498.10H270.10" stroke="#8ea6e6" stroke-width="0.9"/>
<path d="M290.90 507.50H295.70M290.90 509.30H295.70" stroke="#8ea6e6" stroke-width="0.9"/>
<path d="M488.90 496.30H493.70M488.90 498.10H493.70" stroke="#8ea6e6" stroke-width="0.9"/>
<text x="271.00" y="497.20" style="font-size:2.8px;fill:#1c1c1c;">C1_2.8</text>
<text x="271.00" y="500.60" style="font-size:2.8px;fill:#1c1c1c;">2.2uF X7?</text>
<text x="296.80" y="507.60" style="font-size:2.8px;fill:#1c1c1c;">C2_2.8</text>
<text x="296.80" y="511.00" style="font-size:2.8px;fill:#1c1c1c;">0.01uF X7?</text>
<text x="494.80" y="496.40" style="font-size:2.8px;fill:#1c1c1c;">C3_2.8</text>
<text x="494.80" y="499.80" style="font-size:2.8px;fill:#1c1c1c;">2.2uF X7?</text>
<text x="383.00" y="486.40" style="font-size:2.8px;fill:#1c1c1c;">R1_2.8</text>
<text x="383.00" y="489.60" style="font-size:2.8px;fill:#1c1c1c;">100K 1%</text>
<text x="383.00" y="508.60" style="font-size:2.8px;fill:#1c1c1c;">R2_2.8</text>
<text x="383.00" y="511.80" style="font-size:2.8px;fill:#1c1c1c;">100K 1%</text>
<circle cx="267.7" cy="480.4" r="0.95" fill="#2a2f66"/>
<circle cx="315.2" cy="480.4" r="0.95" fill="#2a2f66"/>
<circle cx="373.1" cy="480.4" r="0.95" fill="#2a2f66"/>
<circle cx="381.2" cy="480.4" r="0.95" fill="#2a2f66"/>
<circle cx="491.3" cy="480.4" r="0.95" fill="#2a2f66"/>
<circle cx="381.2" cy="495.2" r="0.95" fill="#2a2f66"/>
<circle cx="381.2" cy="502.5" r="0.95" fill="#2a2f66"/>
<path d="M289.0 480.4H291.4" stroke="#222" stroke-width="1.2"/><path d="M290.79999999999995 478.9l2.2 1.5l-2.2 1.5z" fill="#222"/>
<path d="M440.8 480.4H443.2" stroke="#222" stroke-width="1.2"/><path d="M442.59999999999997 478.9l2.2 1.5l-2.2 1.5z" fill="#222"/>
<path d="M226.90 478.60H254.10L255.90 480.40L254.10 482.20H226.90z" fill="#f4df8e" stroke="#9c8a38" stroke-width="0.6"/>
<text x="230.40" y="481.40" style="font-size:2.8px;fill:#5a4a10;">VIN</text>
<path d="M504.20 478.60H531.90L533.70 480.40L531.90 482.20H504.20z" fill="#f4df8e" stroke="#9c8a38" stroke-width="0.6"/>
<text x="507.70" y="481.40" style="font-size:2.8px;fill:#5a4a10;">VOUT</text>
<path d="M388.50 493.40H417.30L419.10 495.20L417.30 497.00H388.50z" fill="#f4df8e" stroke="#9c8a38" stroke-width="0.6"/>
<text x="392.00" y="496.20" style="font-size:2.8px;fill:#5a4a10;">xFAULT</text>
<path d="M388.50 500.70H417.30L419.10 502.50L417.30 504.30H388.50z" fill="#f4df8e" stroke="#9c8a38" stroke-width="0.6"/>
<text x="392.00" y="503.50" style="font-size:2.8px;fill:#5a4a10;">VSET</text>
<rect x="330.20" y="476.60" width="29.40" height="29.00" fill="#fdf6b2" stroke="#a89a5c" stroke-width="0.8"/>
<text x="330.40" y="472.20" style="font-size:2.8px;fill:#1c1c1c;">U??</text>
<text x="330.40" y="475.40" style="font-size:2.8px;fill:#1c1c1c;">MAX8860EUA25+</text>
<text x="332.20" y="481.40" style="font-size:2.7px;fill:#333;">IN</text>
<text x="357.80" y="481.40" style="font-size:2.7px;fill:#333;text-anchor:end;">OUT</text>
<text x="332.20" y="488.90" style="font-size:2.7px;fill:#333;">xSHDN</text>
<text x="357.80" y="488.90" style="font-size:2.7px;fill:#333;text-anchor:end;">OUT</text>
<text x="332.20" y="496.20" style="font-size:2.7px;fill:#333;">CC</text>
<text x="357.80" y="496.20" style="font-size:2.7px;fill:#333;text-anchor:end;">xFAULT</text>
<text x="332.20" y="503.50" style="font-size:2.7px;fill:#333;">GND</text>
<text x="357.80" y="503.50" style="font-size:2.7px;fill:#333;text-anchor:end;">SET</text>
<path d="M422.3 483.9H483.3V496.4L480.7 499H422.3z" fill="#ffffc6" stroke="#86864e" stroke-width="0.7"/>
<path d="M480.7 499V496.4H483.3z" fill="#fafae8" stroke="#86864e" stroke-width="0.4"/>
<path d="M422.3 483.9h1.6l-1.6 1.6z" fill="#e02020"/>
<text x="425.00" y="489.50" style="font-size:3.5px;fill:#2a2a2a;" textLength="44.5" lengthAdjust="spacingAndGlyphs">Higher level has resistor (RA)</text>
<text x="425.00" y="494.00" style="font-size:3.5px;fill:#2a2a2a;" textLength="37" lengthAdjust="spacingAndGlyphs">between VSET and VOUT.</text>
<path d="M415 612.4V583.5H584.6M415 590.4H506.2M415 598H506.2M415 605.3H506.2M415 608.9H506.2M506.2 583.5V612.4M545.7 583.5V612.4M439.8 598V605.3M473.5 598V608.9M444.5 605.3V608.9" fill="none" stroke="#777" stroke-width="0.6"/>
<text x="416.80" y="588.00" style="font-size:2.6px;fill:#222;" textLength="12" lengthAdjust="spacingAndGlyphs">Sheet Title</text>
<text x="434.0" y="588.7" style="font-family:'Liberation Serif',serif;font-style:italic;font-weight:bold;font-size:5.3px;fill:#1f30cc" textLength="55.3" lengthAdjust="spacingAndGlyphs">Power Supply MAX8860 (3V3)</text>
<text x="416.80" y="595.20" style="font-size:2.6px;fill:#222;" textLength="13" lengthAdjust="spacingAndGlyphs">Project Title</text>
<text x="434.0" y="595.7" style="font-family:'Liberation Serif',serif;font-style:italic;font-weight:bold;font-size:5.3px;fill:#1f30cc" textLength="51.6" lengthAdjust="spacingAndGlyphs">PB12 - Audio/Video (Single)</text>
<text x="416.80" y="602.60" style="font-size:2.6px;fill:#222;">Size:</text>
<text x="425.8" y="602.8" style="font-family:'Liberation Serif',serif;font-style:italic;font-size:3.4px;fill:#1f30cc">A4</text>
<text x="441.50" y="602.60" style="font-size:2.6px;fill:#222;">Assy:</text>
<text x="449.4" y="602.8" style="font-family:'Liberation Serif',serif;font-style:italic;font-size:3.4px;fill:#1f30cc" textLength="16.3" lengthAdjust="spacingAndGlyphs">D-810-0023</text>
<text x="475.50" y="602.60" style="font-size:2.6px;fill:#222;">Revision:</text>
<text x="487.5" y="602.8" style="font-family:'Liberation Serif',serif;font-style:italic;font-size:3.4px;fill:#1f30cc">02</text>
<text x="416.80" y="608.00" style="font-size:2.4px;fill:#222;">Date:</text>
<text x="425.8" y="608.1" style="font-family:'Liberation Serif',serif;font-style:italic;font-size:3.0px;fill:#1f30cc" textLength="13.6" lengthAdjust="spacingAndGlyphs">2007-05-10</text>
<text x="446.70" y="608.00" style="font-size:2.4px;fill:#222;">Time:</text>
<text x="454.8" y="608.1" style="font-family:'Liberation Serif',serif;font-style:italic;font-size:3.0px;fill:#1f30cc" textLength="13.6" lengthAdjust="spacingAndGlyphs">2:08:22PM</text>
<text x="475.70" y="608.00" style="font-size:2.4px;fill:#222;">Sheet</text>
<text x="484.7" y="608.1" style="font-family:'Liberation Serif',serif;font-style:italic;font-size:3.0px;fill:#1f30cc" textLength="13.6" lengthAdjust="spacingAndGlyphs">1   of  100</text>
<text x="416.80" y="611.60" style="font-size:2.4px;fill:#222;">File:</text>
<text x="425.8" y="611.7" style="font-family:'Liberation Serif',serif;font-style:italic;font-size:3.0px;fill:#1f30cc" textLength="36.2" lengthAdjust="spacingAndGlyphs">PSU_MAX8860_ADJ.SchDoc</text>
<text x="508.0" y="588.9" style="font-family:'Liberation Serif',serif;font-style:italic;font-weight:bold;font-size:3.6px;fill:#1f30cc">Altium Limited</text>
<text x="508.0" y="592.3" style="font-family:'Liberation Serif',serif;font-style:italic;font-size:3.6px;fill:#1f30cc">L3, 12a Rodborough Rd</text>
<text x="508.0" y="595.7" style="font-family:'Liberation Serif',serif;font-style:italic;font-size:3.6px;fill:#1f30cc">Frenchs Forest</text>
<text x="508.0" y="599.9" style="font-family:'Liberation Serif',serif;font-style:italic;font-size:3.6px;fill:#1f30cc">NSW 2086</text>
<text x="508.0" y="603.9" style="font-family:'Liberation Serif',serif;font-style:italic;font-size:3.6px;fill:#1f30cc">Australia</text>
<rect x="549" y="588.1" width="33" height="14.9" rx="1.8" fill="#262626"/>
<text x="565.6" y="598.7" style="font-size:9px;font-weight:bold;font-style:italic;fill:#fff;text-anchor:middle" textLength="27.5" lengthAdjust="spacingAndGlyphs">Altium</text>
</g>
<g id="panel">
<rect x="0" y="132.2" width="164.4" height="284.2" fill="#3a3a3a"/>
<rect x="0" y="132.2" width="164.4" height="1" fill="#2c3f55"/>
<rect x="0" y="133" width="164.4" height="11.8" fill="#5b80a8"/>
<text x="2.9" y="141.2" style="font-size:7.1px;font-weight:bold;fill:#f4f6f8" textLength="23.4" lengthAdjust="spacingAndGlyphs">Projects</text>
<path d="M149 137.6h3.4l-1.7 2.2z" fill="#f0f0f0"/>
<path d="M157.6 137.2l3 3M160.6 137.2l-3 3" stroke="#f0f0f0" stroke-width="0.9" fill="none"/>
<rect x="6" y="151" width="7" height="7.1" rx="0.6" fill="#6e6e6e"/><rect x="7.6" y="151" width="3.8" height="2.4" fill="#8a8a8a"/><rect x="7.4" y="154.6" width="4.2" height="3.5" fill="#8c8c8c"/>
<path d="M22.2 150.4h3.6l1.9 1.9v5.9h-5.5z" fill="#eef3fb" stroke="#8fb0e0" stroke-width="0.6"/><rect x="20.8" y="153.4" width="4.2" height="4.4" rx="0.5" fill="#5d8ad0"/><path d="M21.6 154.8h2.6M21.6 156.3h2.6" stroke="#e8f0fb" stroke-width="0.5"/>
<path d="M35 150.8h2.6l0.8 1h3.4v5.6h-6.8z" fill="#cfc27a"/><path d="M35 152.8h6.8v4.6h-6.8z" fill="#e4d998"/><path d="M36.2 154.2h3M36.2 155.6h3" stroke="#b9ab62" stroke-width="0.5"/><circle cx="41.3" cy="155.6" r="1.6" fill="#bcd6f2"/><path d="M38.6 158.4l2-2.2" stroke="#7fc07a" stroke-width="0.7"/>
<path d="M49.8 150.8h2.6l0.8 1h3.4v5.6h-6.8z" fill="#cfc27a"/><path d="M49.8 152.8h6.8v4.6h-6.8z" fill="#e4d998"/><path d="M51 154.2h3M51 155.6h3" stroke="#b9ab62" stroke-width="0.5"/><circle cx="55.9" cy="156.6" r="1.5" fill="#5c5c5c" stroke="#c8c8c8" stroke-width="0.6"/>
<path d="M62.2 151v7.4" stroke="#222" stroke-width="0.8" stroke-dasharray="0.8 0.8"/>
<circle cx="69.8" cy="154.8" r="2.3" fill="none" stroke="#c9cdd6" stroke-width="1.5"/><circle cx="69.8" cy="154.8" r="3.3" fill="none" stroke="#9ea2aa" stroke-width="0.7" stroke-dasharray="0.9 1.2"/>
<rect x="3.9" y="162.4" width="157.1" height="248.4" fill="#2e2e2e"/>
<rect x="3.9" y="162.4" width="157.1" height="248.4" fill="none" stroke="#1e1e1e" stroke-width="0.8" stroke-dasharray="0.9 0.9"/>
<rect x="7" y="165" width="150.8" height="12.2" rx="2.5" fill="#262626" stroke="#1b1b1b" stroke-width="0.7" stroke-dasharray="0.9 0.9"/>
<circle cx="12.9" cy="170" r="1.9" fill="none" stroke="#cfcfcf" stroke-width="0.8"/><path d="M14.3 171.5l1.6 1.7" stroke="#cfcfcf" stroke-width="0.9"/>
<text x="21" y="173.2" style="font-size:6.9px;fill:#d9d9d9" textLength="18.4" lengthAdjust="spacingAndGlyphs">Search</text>
<path d="M7 179.4H158" stroke="#1c1c1c" stroke-width="0.8" stroke-dasharray="0.9 0.9"/>
<rect x="13.4" y="194.40500000000003" width="143.1" height="7.3" fill="#585858"/>
<rect x="35" y="211.21500000000003" width="121.3" height="7.3" fill="#5a80aa"/>
<rect x="8.0" y="185.55" width="6.8" height="7.6" rx="1" fill="#dfe8f4"/><path d="M9.0 186.95000000000002l4.6 5M8.8 189.75l3.4 2.6M10.8 186.35000000000002l3.2 2.4" stroke="#5f87c6" stroke-width="1.1" fill="none"/>
<text x="17.0" y="192.05" style="font-size:6.75px;font-weight:bold;fill:#f4f4f4" textLength="56.7" lengthAdjust="spacingAndGlyphs">Workspace1.DsnWrk</text>
<path d="M16.2 194.00500000000002h3.4l1.6 1.6v5.8h-5z" fill="#eef2f6"/><rect x="13.4" y="196.40500000000003" width="5.2" height="4.6" fill="#2f9a55"/><path d="M14.2 197.80500000000004h1.6v2h1.6" stroke="#d8f5df" stroke-width="0.6" fill="none"/>
<path d="M12.2 196.705v3h-3z" fill="#e8e8e8"/>
<text x="23.2" y="200.50500000000002" style="font-size:6.75px;font-weight:bold;fill:#f4f4f4" textLength="36.4" lengthAdjust="spacingAndGlyphs">PB12.PRJPCB</text>
<path d="M20.5 203.66h2.4l0.8 0.9h3.4v4.9h-6.6z" fill="#a9cf8e"/><path d="M20.5 205.56h6.6v3.9h-6.6z" fill="#d5e9bc"/><path d="M21.700000000000003 206.86h4.2M21.700000000000003 208.26000000000002h4.2" stroke="#4aa552" stroke-width="0.8" stroke-dasharray="1.2 0.5"/>
<path d="M18.700000000000003 205.16v3h-3z" fill="#e8e8e8"/>
<text x="29.7" y="208.96" style="font-size:6.75px;fill:#d4d4d4" textLength="50.7" lengthAdjust="spacingAndGlyphs">Source Documents</text>
<rect x="26.499999999999996" y="212.21500000000003" width="7.9" height="5.5" fill="#eadf97"/><path d="M27.799999999999997 214.01500000000001h1.8M31.199999999999996 214.01500000000001h2M27.799999999999997 215.81500000000003h5.4" stroke="#b5a55a" stroke-width="0.8"/><rect x="29.599999999999998" y="213.21500000000003" width="1.6" height="1.6" fill="#fff8cc"/>
<path d="M25.4 213.615v3h-3z" fill="#e8e8e8"/>
<text x="36.4" y="217.41500000000002" style="font-size:6.75px;fill:#dfe9f6" textLength="47.0" lengthAdjust="spacingAndGlyphs">PB12_Top.SchDoc</text>
<rect x="32.7" y="220.67000000000002" width="7.9" height="5.5" fill="#eadf97"/><path d="M34.0 222.47h1.8M37.4 222.47h2M34.0 224.27h5.4" stroke="#b5a55a" stroke-width="0.8"/><rect x="35.8" y="221.67000000000002" width="1.6" height="1.6" fill="#fff8cc"/>
<path d="M31.6 222.07v3h-3z" fill="#e8e8e8"/>
<text x="42.6" y="225.87" style="font-size:6.75px;fill:#d4d4d4" textLength="77.8" lengthAdjust="spacingAndGlyphs">PB12_AUDIO_CODEC.SchDoc</text>
<rect x="39.1" y="229.12500000000003" width="7.9" height="5.5" fill="#eadf97"/><path d="M40.4 230.925h1.8M43.8 230.925h2M40.4 232.72500000000002h5.4" stroke="#b5a55a" stroke-width="0.8"/><rect x="42.199999999999996" y="230.12500000000003" width="1.6" height="1.6" fill="#fff8cc"/>
<text x="49.0" y="234.32500000000002" style="font-size:6.75px;fill:#d4d4d4" textLength="84.0" lengthAdjust="spacingAndGlyphs">AUDIO_CODEC_CS4270.SchDoc</text>
<rect x="39.1" y="237.58000000000004" width="7.9" height="5.5" fill="#eadf97"/><path d="M40.4 239.38000000000002h1.8M43.8 239.38000000000002h2M40.4 241.18000000000004h5.4" stroke="#b5a55a" stroke-width="0.8"/><rect x="42.199999999999996" y="238.58000000000004" width="1.6" height="1.6" fill="#fff8cc"/>
<text x="49.0" y="242.78000000000003" style="font-size:6.75px;fill:#d4d4d4" textLength="72.0" lengthAdjust="spacingAndGlyphs">PSU_MAX8860_ADJ.SchDoc</text>
<rect x="32.7" y="246.03500000000003" width="7.9" height="5.5" fill="#eadf97"/><path d="M34.0 247.835h1.8M37.4 247.835h2M34.0 249.63500000000002h5.4" stroke="#b5a55a" stroke-width="0.8"/><rect x="35.8" y="247.03500000000003" width="1.6" height="1.6" fill="#fff8cc"/>
<text x="42.6" y="251.235" style="font-size:6.75px;fill:#d4d4d4" textLength="61.6" lengthAdjust="spacingAndGlyphs">PB12_MOUNTS.SchDoc</text>
<rect x="32.7" y="254.49" width="7.9" height="5.5" fill="#eadf97"/><path d="M34.0 256.29h1.8M37.4 256.29h2M34.0 258.09h5.4" stroke="#b5a55a" stroke-width="0.8"/><rect x="35.8" y="255.49" width="1.6" height="1.6" fill="#fff8cc"/>
<path d="M31.6 255.89v3h-3z" fill="#e8e8e8"/>
<text x="42.6" y="259.69" style="font-size:6.75px;fill:#d4d4d4" textLength="88.5" lengthAdjust="spacingAndGlyphs">PB12_ServiceDistribution.SchDoc</text>
<rect x="39.1" y="262.945" width="7.9" height="5.5" fill="#eadf97"/><path d="M40.4 264.745h1.8M43.8 264.745h2M40.4 266.54499999999996h5.4" stroke="#b5a55a" stroke-width="0.8"/><rect x="42.199999999999996" y="263.945" width="1.6" height="1.6" fill="#fff8cc"/>
<text x="49.0" y="268.145" style="font-size:6.75px;fill:#d4d4d4" textLength="72.0" lengthAdjust="spacingAndGlyphs">PB12_Terminations.SchDoc</text>
<rect x="32.7" y="271.40000000000003" width="7.9" height="5.5" fill="#eadf97"/><path d="M34.0 273.20000000000005h1.8M37.4 273.20000000000005h2M34.0 275.0h5.4" stroke="#b5a55a" stroke-width="0.8"/><rect x="35.8" y="272.40000000000003" width="1.6" height="1.6" fill="#fff8cc"/>
<path d="M31.6 272.8v3h-3z" fill="#e8e8e8"/>
<text x="42.6" y="276.6" style="font-size:6.75px;fill:#d4d4d4" textLength="66.1" lengthAdjust="spacingAndGlyphs">PB12_VGA_OUT.SCHDOC</text>
<rect x="39.1" y="279.855" width="7.9" height="5.5" fill="#eadf97"/><path d="M40.4 281.65500000000003h1.8M43.8 281.65500000000003h2M40.4 283.455h5.4" stroke="#b5a55a" stroke-width="0.8"/><rect x="42.199999999999996" y="280.855" width="1.6" height="1.6" fill="#fff8cc"/>
<text x="49.0" y="285.055" style="font-size:6.75px;fill:#d4d4d4" textLength="73.4" lengthAdjust="spacingAndGlyphs">RGBtoCOMP&amp;SVID.SchDoc</text>
<rect x="39.1" y="288.31" width="7.9" height="5.5" fill="#eadf97"/><path d="M40.4 290.11h1.8M43.8 290.11h2M40.4 291.90999999999997h5.4" stroke="#b5a55a" stroke-width="0.8"/><rect x="42.199999999999996" y="289.31" width="1.6" height="1.6" fill="#fff8cc"/>
<text x="49.0" y="293.51" style="font-size:6.75px;fill:#d4d4d4" textLength="81.5" lengthAdjust="spacingAndGlyphs">BUFFERED_SVGA_OUT.SchDoc</text>
<rect x="39.1" y="296.76500000000004" width="7.9" height="5.5" fill="#eadf97"/><path d="M40.4 298.56500000000005h1.8M43.8 298.56500000000005h2M40.4 300.365h5.4" stroke="#b5a55a" stroke-width="0.8"/><rect x="42.199999999999996" y="297.76500000000004" width="1.6" height="1.6" fill="#fff8cc"/>
<text x="49.0" y="301.96500000000003" style="font-size:6.75px;fill:#d4d4d4" textLength="81.8" lengthAdjust="spacingAndGlyphs">VIDEO_DAC_THS8134B.SchDoc</text>
<rect x="32.7" y="305.22" width="7.9" height="5.5" fill="#eadf97"/><path d="M34.0 307.02000000000004h1.8M37.4 307.02000000000004h2M34.0 308.82h5.4" stroke="#b5a55a" stroke-width="0.8"/><rect x="35.8" y="306.22" width="1.6" height="1.6" fill="#fff8cc"/>
<path d="M31.6 306.62v3h-3z" fill="#e8e8e8"/>
<text x="42.6" y="310.42" style="font-size:6.75px;fill:#d4d4d4" textLength="63.0" lengthAdjust="spacingAndGlyphs">PB12_VIDEO_IN.SchDoc</text>
<rect x="39.1" y="313.675" width="7.9" height="5.5" fill="#eadf97"/><path d="M40.4 315.475h1.8M43.8 315.475h2M40.4 317.275h5.4" stroke="#b5a55a" stroke-width="0.8"/><rect x="42.199999999999996" y="314.675" width="1.6" height="1.6" fill="#fff8cc"/>
<text x="49.0" y="318.875" style="font-size:6.75px;fill:#d4d4d4" textLength="77.6" lengthAdjust="spacingAndGlyphs">2XCOMPor1XSVID_IN.SchDoc</text>
<rect x="32.7" y="322.13000000000005" width="7.9" height="5.5" fill="#eadf97"/><path d="M34.0 323.93000000000006h1.8M37.4 323.93000000000006h2M34.0 325.73h5.4" stroke="#b5a55a" stroke-width="0.8"/><rect x="35.8" y="323.13000000000005" width="1.6" height="1.6" fill="#fff8cc"/>
<text x="42.6" y="327.33000000000004" style="font-size:6.75px;fill:#d4d4d4" textLength="51.8" lengthAdjust="spacingAndGlyphs">AV_IN_OUT.SchDoc</text>
<rect x="32.7" y="330.58500000000004" width="7.9" height="5.5" fill="#eadf97"/><path d="M34.0 332.38500000000005h1.8M37.4 332.38500000000005h2M34.0 334.185h5.4" stroke="#b5a55a" stroke-width="0.8"/><rect x="35.8" y="331.58500000000004" width="1.6" height="1.6" fill="#fff8cc"/>
<text x="42.6" y="335.785" style="font-size:6.75px;fill:#d4d4d4" textLength="79.8" lengthAdjust="spacingAndGlyphs">1WB_DS2406_EPROM.SchDoc</text>
<rect x="32.7" y="339.04" width="7.9" height="5.5" fill="#eadf97"/><path d="M34.0 340.84000000000003h1.8M37.4 340.84000000000003h2M34.0 342.64h5.4" stroke="#b5a55a" stroke-width="0.8"/><rect x="35.8" y="340.04" width="1.6" height="1.6" fill="#fff8cc"/>
<text x="42.6" y="344.24" style="font-size:6.75px;fill:#d4d4d4" textLength="81.2" lengthAdjust="spacingAndGlyphs">AUDIO_MICROPHONE.SchDoc</text>
<rect x="32.7" y="347.49500000000006" width="7.9" height="5.5" fill="#eadf97"/><path d="M34.0 349.2950000000001h1.8M37.4 349.2950000000001h2M34.0 351.095h5.4" stroke="#b5a55a" stroke-width="0.8"/><rect x="35.8" y="348.49500000000006" width="1.6" height="1.6" fill="#fff8cc"/>
<text x="42.6" y="352.69500000000005" style="font-size:6.75px;fill:#d4d4d4" textLength="66.6" lengthAdjust="spacingAndGlyphs">PB_ExtenderPlug.SchDoc</text>
<rect x="32.7" y="355.95" width="7.9" height="5.5" fill="#eadf97"/><path d="M34.0 357.75h1.8M37.4 357.75h2M34.0 359.54999999999995h5.4" stroke="#b5a55a" stroke-width="0.8"/><rect x="35.8" y="356.95" width="1.6" height="1.6" fill="#fff8cc"/>
<text x="42.6" y="361.15" style="font-size:6.75px;fill:#d4d4d4" textLength="74.5" lengthAdjust="spacingAndGlyphs">VIDEO_OSCILLATOR.SchDoc</text>
<rect x="26.199999999999996" y="364.105" width="8.2" height="6" rx="0.8" fill="#2f9e5b"/><path d="M27.599999999999998 365.70500000000004h2v2.4h2.2v-2" stroke="#e6f7ea" stroke-width="0.8" fill="none"/><circle cx="32.599999999999994" cy="368.305" r="0.8" fill="#e6f7ea"/><rect x="27.799999999999997" y="370.105" width="1.2" height="1" fill="#2f9e5b"/><rect x="31.4" y="370.105" width="1.2" height="1" fill="#2f9e5b"/>
<text x="36.4" y="369.605" style="font-size:6.75px;fill:#d4d4d4" textLength="34.2" lengthAdjust="spacingAndGlyphs">PB12.PcbDoc</text>
<rect x="26.199999999999996" y="372.56" width="8.2" height="6" rx="0.8" fill="#2f9e5b"/><path d="M27.599999999999998 374.16h2v2.4h2.2v-2" stroke="#e6f7ea" stroke-width="0.8" fill="none"/><circle cx="32.599999999999994" cy="376.76" r="0.8" fill="#e6f7ea"/><rect x="27.799999999999997" y="378.56" width="1.2" height="1" fill="#2f9e5b"/><rect x="31.4" y="378.56" width="1.2" height="1" fill="#2f9e5b"/>
<text x="36.4" y="378.06" style="font-size:6.75px;fill:#d4d4d4" textLength="62.2" lengthAdjust="spacingAndGlyphs">PB12_unrouted.PcbDoc</text>
<rect x="26.199999999999996" y="381.015" width="8.2" height="6" rx="0.8" fill="#2f9e5b"/><path d="M27.599999999999998 382.615h2v2.4h2.2v-2" stroke="#e6f7ea" stroke-width="0.8" fill="none"/><circle cx="32.599999999999994" cy="385.215" r="0.8" fill="#e6f7ea"/><rect x="27.799999999999997" y="387.015" width="1.2" height="1" fill="#2f9e5b"/><rect x="31.4" y="387.015" width="1.2" height="1" fill="#2f9e5b"/>
<text x="36.4" y="386.515" style="font-size:6.75px;fill:#d4d4d4" textLength="51.8" lengthAdjust="spacingAndGlyphs">PB12_Panel.PcbDoc</text>
<path d="M20.5 389.67h2.4l0.8 0.9h3.4v4.9h-6.6z" fill="#a9cf8e"/><path d="M20.5 391.57000000000005h6.6v3.9h-6.6z" fill="#d5e9bc"/><path d="M21.700000000000003 392.87h4.2M21.700000000000003 394.27000000000004h4.2" stroke="#4aa552" stroke-width="0.8" stroke-dasharray="1.2 0.5"/>
<path d="M15.299999999999999 390.57000000000005l2.2 1.9-2.2 1.9z" fill="#e8e8e8"/>
<text x="29.7" y="394.97" style="font-size:6.75px;fill:#d4d4d4" textLength="22.1" lengthAdjust="spacingAndGlyphs">Settings</text>
<path d="M20.5 398.125h2.4l0.8 0.9h3.4v4.9h-6.6z" fill="#a9cf8e"/><path d="M20.5 400.02500000000003h6.6v3.9h-6.6z" fill="#d5e9bc"/><path d="M21.700000000000003 401.325h4.2M21.700000000000003 402.725h4.2" stroke="#4aa552" stroke-width="0.8" stroke-dasharray="1.2 0.5"/>
<path d="M15.299999999999999 399.02500000000003l2.2 1.9-2.2 1.9z" fill="#e8e8e8"/>
<text x="29.7" y="403.425" style="font-size:6.75px;fill:#d4d4d4" textLength="22.7" lengthAdjust="spacingAndGlyphs">Libraries</text>
</g>
<g id="arrows">
<ellipse cx="324.5" cy="83.1" rx="44.4" ry="17.0" fill="none" stroke="#ff8208" stroke-width="2.3"/>
<ellipse cx="271.0" cy="262.3" rx="46.2" ry="17.4" fill="none" stroke="#ff8208" stroke-width="2.3"/>
<path d="M324.00 100.50L354.97 203.95" stroke="#ff8208" stroke-width="2.0" fill="none"/>
<path d="M358.70 216.40L348.75 204.77L360.62 201.21z" fill="#ff8208"/>
<path d="M270.40 280.00L286.87 348.76" stroke="#ff8208" stroke-width="1.9" fill="none"/>
<path d="M289.90 361.40L280.80 349.18L292.47 346.39z" fill="#ff8208"/>
<path d="M147.90 214.40L173.90 181.22" stroke="#ff8208" stroke-width="1.3" fill="none"/>
<path d="M177.60 176.50L175.49 183.74L171.08 180.28z" fill="#ff8208"/>
<path d="M147.90 223.40L214.63 230.15" stroke="#ff8208" stroke-width="1.3" fill="none"/>
<path d="M221.10 230.80L213.31 233.33L213.97 226.76z" fill="#ff8208"/>
<path d="M147.90 240.20L217.61 376.27" stroke="#ff8208" stroke-width="1.3" fill="none"/>
<path d="M220.80 382.50L214.39 376.79L219.91 373.97z" fill="#ff8208"/>
</g>
</g>
</svg></body></html>
